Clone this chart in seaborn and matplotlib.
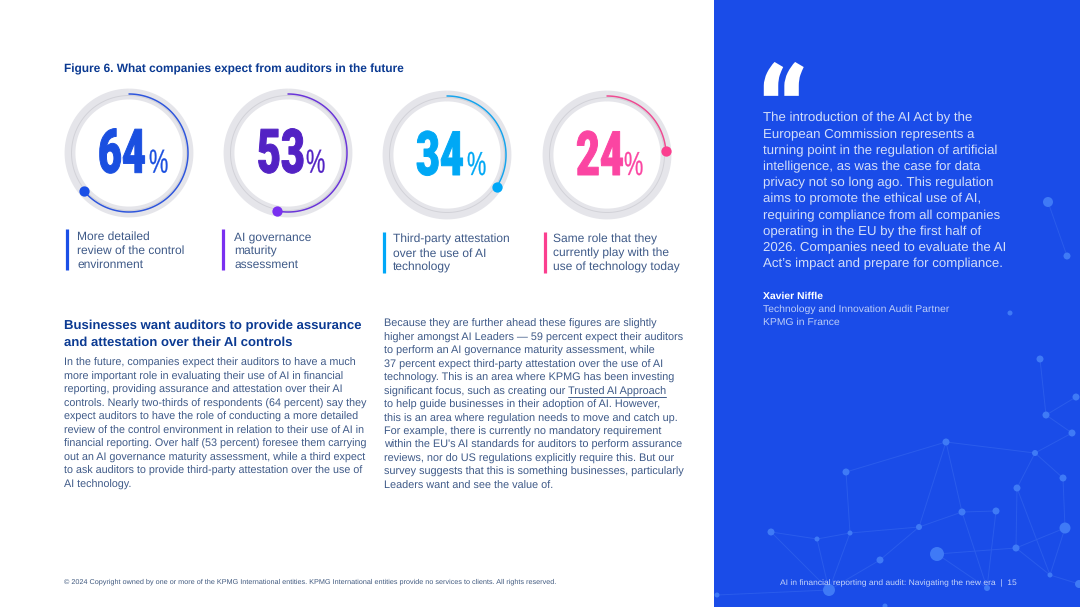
import numpy as np
import pandas as pd
import matplotlib
matplotlib.use('Agg')
import matplotlib.pyplot as plt
import matplotlib.patheffects as pe
from matplotlib.transforms import Affine2D
import seaborn as sns

sns.set_theme(style='white')
plt.rcParams['font.family'] = ['Liberation Sans', 'DejaVu Sans']
plt.rcParams['text.hinting'] = 'no_hinting'

# Chart values
ring_values = [64, 53, 34, 24]
ring_arc_colors = ['#2f56dc', '#6a35d8', '#18a4ec', '#ee4c92']
ring_dot_colors = ['#1a4fe6', '#7a30f0', '#00a8f8', '#fb3f8f']
ring_num_colors = ['#1a4fe0', '#5322c4', '#00a8f5', '#fb45a2']
ring_centers = [(129, 153), (288, 153), (447, 155), (607, 155)]
num_x = [98, 257, 416, 576]
pct_x = [149, 306, 467, 624]
ring_labels = [
    ['More detailed', 'review of the control', 'environment'],
    ['AI governance', 'maturity', 'assessment'],
    ['Third-party attestation', 'over the use of AI', 'technology'],
    ['Same role that they', 'currently play with the', 'use of technology today'],
]
label_x = [77, 234, 393, 553]
label_y = [236, 236, 238.5, 238.5]
bar_x = [66.5, 222.5, 383.5, 544.5]

title = 'Figure 6. What companies expect from auditors in the future'
heading = ['Businesses want auditors to provide assurance',
           'and attestation over their AI controls']
left_body = [
    'In the future, companies expect their auditors to have a much',
    'more important role in evaluating their use of AI in financial',
    'reporting, providing assurance and attestation over their AI',
    'controls. Nearly two-thirds of respondents (64 percent) say they',
    'expect auditors to have the role of conducting a more detailed',
    'review of the control environment in relation to their use of AI in',
    'financial reporting. Over half (53 percent) foresee them carrying',
    'out an AI governance maturity assessment, while a third expect',
    'to ask auditors to provide third-party attestation over the use of',
    'AI technology.',
]
right_body = [
    'Because they are further ahead these figures are slightly',
    'higher amongst AI Leaders \u2014 59 percent expect their auditors',
    'to perform an AI governance maturity assessment, while',
    '37 percent expect third-party attestation over the use of AI',
    'technology. This is an area where KPMG has been investing',
    'significant focus, such as creating our Trusted AI Approach',
    'to help guide businesses in their adoption of AI. However,',
    'this is an area where regulation needs to move and catch up.',
    'For example, there is currently no mandatory requirement',
    "within the EU's AI standards for auditors to perform assurance",
    'reviews, nor do US regulations explicitly require this. But our',
    'survey suggests that this is something businesses, particularly',
    'Leaders want and see the value of.',
]
quote_lines = [
    'The introduction of the AI Act by the',
    'European Commission represents a',
    'turning point in the regulation of artificial',
    'intelligence, as was the case for data',
    'privacy not so long ago. This regulation',
    'aims to promote the ethical use of AI,',
    'requiring compliance from all companies',
    'operating in the EU by the first half of',
    '2026. Companies need to evaluate the AI',
    'Act\u2019s impact and prepare for compliance.',
]
footer_left = ('\u00a9 2024 Copyright owned by one or more of the KPMG International entities. '
               'KPMG International entities provide no services to clients. All rights reserved.')
footer_right = 'AI in financial reporting and audit: Navigating the new era  |  15'

# Background network on the blue panel
node_x = [1040, 1076, 1046, 1072, 946, 1035, 1063, 1017, 846, 962, 996, 1065, 919, 850,
          817, 771, 1016, 937, 880, 1050, 829, 987, 717, 885, 1079, 1048, 1067, 1010]
node_y = [359, 397, 415, 433, 442, 453, 478, 488, 472, 512, 511, 528, 527, 533,
          539, 532, 548, 554, 560, 575, 590, 588, 595, 606, 584, 202, 256, 313]
node_r = [3.5, 3.5, 3.5, 3.5, 3.5, 3, 3.5, 3.5, 3.5, 3.5, 3.5, 5.5, 3, 2.5,
          2.5, 3.5, 3.5, 7, 3.5, 2.5, 6, 3, 2.5, 2.5, 4, 5, 3.5, 2.5]
edges = [(0, 2), (2, 3), (2, 1), (4, 5), (5, 6), (4, 9), (4, 12), (8, 13), (13, 14),
         (14, 15), (13, 12), (12, 9), (9, 10), (9, 21), (10, 21), (7, 16), (7, 19),
         (6, 11), (11, 16), (11, 19), (17, 16), (12, 18), (18, 20), (14, 20), (13, 20),
         (15, 20), (22, 20), (16, 19), (19, 24), (4, 8), (5, 7), (25, 26), (3, 5), (17, 21)]

PANEL = '#1a4ce8'
NAVY = '#0b3a92'
BODY = '#3f5a88'


# squeezes a text glyph about its own origin, no condensed font is installed
class Stretch(pe.AbstractPathEffect):
    def __init__(self, sx=1.0, sy=1.0, bold=0):
        super().__init__()
        self.sx, self.sy, self.bold = sx, sy, bold

    def draw_path(self, renderer, gc, tpath, affine, rgbFace=None):
        m = affine.get_matrix().copy()
        m[0, :2] *= self.sx
        m[1, :2] *= self.sy
        gc0 = renderer.new_gc()
        gc0.copy_properties(gc)
        gc0.set_linewidth(self.bold)
        gc0.set_foreground(rgbFace)
        renderer.draw_path(gc0, tpath, Affine2D(m), rgbFace)
        gc0.restore()


fig = plt.figure(figsize=(10.8, 6.07), dpi=100, facecolor='white')
bg = fig.add_axes([0, 0, 1, 1])
bg.axis('off')

bg.axvspan(714, 1080, color=PANEL, lw=0, zorder=0)
for a, b in edges:
    bg.plot([node_x[a], node_x[b]], [node_y[a], node_y[b]], color='#2a5cec', lw=0.7, zorder=1)
nodes = pd.DataFrame({'x': node_x, 'y': node_y, 'area': [(2 * r * 0.72) ** 2 for r in node_r]})
sns.scatterplot(data=nodes, x='x', y='y', size='area', sizes=(nodes['area'].min(), nodes['area'].max()),
                size_norm=(nodes['area'].min(), nodes['area'].max()), color='#3f7af6', linewidth=0,
                legend=False, ax=bg, zorder=2)
bg.set_xlim(0, 1080)
bg.set_ylim(607, 0)
bg.set_xlabel('')
bg.set_ylabel('')


def glyphs(x, y, s, size, color, weight='normal', family=None, stretch=None):
    kw = {'family': family} if family else {}
    t = bg.text(x, y, s, fontsize=size, color=color, fontweight=weight, va='baseline', ha='left', zorder=5, **kw)
    if stretch:
        t.set_path_effects([Stretch(*stretch)])
    return t


def line(x, y, s, size, color, weight='normal'):
    # y is the middle of the line, baseline sits about a third of the em below it
    return glyphs(x, y + 0.34 * size * 100 / 72, s, size, color, weight)


line(64, 68, title, 8.6, NAVY, 'bold')

# Rings
R = 72
W, H = 1080, 607
for i, v in enumerate(ring_values):
    cx, cy = ring_centers[i]
    ax = fig.add_axes([(cx - R) / W, 1 - (cy + R) / H, 2 * R / W, 2 * R / H], projection='polar')
    ax.set_theta_zero_location('N')
    ax.set_theta_direction(-1)
    ax.axis('off')
    ax.patch.set_alpha(0)
    full = np.linspace(0, 2 * np.pi, 240)
    ax.plot(full, np.full(240, 59), color='#e5e5ea', lw=7.8, solid_capstyle='butt')
    ax.plot(full, np.full(240, 57.5), color='#d2d2d8', lw=0.7)
    theta = np.linspace(0, v / 100 * 2 * np.pi, 120)
    sns.lineplot(x=theta, y=np.full(120, 59), sort=False, estimator=None, color=ring_arc_colors[i],
                 lw=1.1, ax=ax)
    sns.scatterplot(x=[theta[-1]], y=[59], s=55, color=ring_dot_colors[i], linewidth=0, ax=ax, zorder=5)
    ax.set_ylim(0, R)
    ax.set_xlabel('')
    ax.set_ylabel('')

    base = 172.7 if i < 2 else 175
    glyphs(num_x[i], base, str(v), 45, ring_num_colors[i], 'black', 'Roboto', (0.66, 0.98, 0.7))
    glyphs(pct_x[i], base, '%', 24, ring_num_colors[i], 'normal', None, (0.65, 1, 0.2))

    bg.plot([bar_x[i], bar_x[i]], [label_y[i] - 7, label_y[i] + 34], color=ring_dot_colors[i], lw=2.3,
            solid_capstyle='butt', zorder=3)
    for j, s in enumerate(ring_labels[i]):
        line(label_x[i], label_y[i] + j * 14, s, 8.66, BODY)

# Text columns
line(64, 325, heading[0], 9.42, NAVY, 'bold')
line(64, 341, heading[1], 9.42, NAVY, 'bold')
for j, s in enumerate(left_body):
    line(64, 362.3 + j * 13.5, s, 7.72, BODY)
for j, s in enumerate(right_body):
    line(384, 323.3 + j * 13.47, s, 7.81, BODY)
bg.plot([568, 666], [396.5, 396.5], color=BODY, lw=0.7, zorder=3)

# Quote panel
glyphs(757, 162, '\u201c', 72, 'white', 'black', 'Roboto', (1.2, 1.3))
for j, s in enumerate(quote_lines):
    line(763, 117.3 + j * 16.17, s, 9.5, '#d3def9')
line(763, 295, 'Xavier Niffle', 7.5, 'white', 'bold')
line(763, 308, 'Technology and Innovation Audit Partner', 7.45, '#bccdf8')
line(763, 321, 'KPMG in France', 7.45, '#bccdf8')

# Footers
line(64, 581, footer_left, 5.2, '#40597f')
line(780, 582, footer_right, 6.1, '#c5d4fa')

plt.savefig('out.png', dpi=100)
